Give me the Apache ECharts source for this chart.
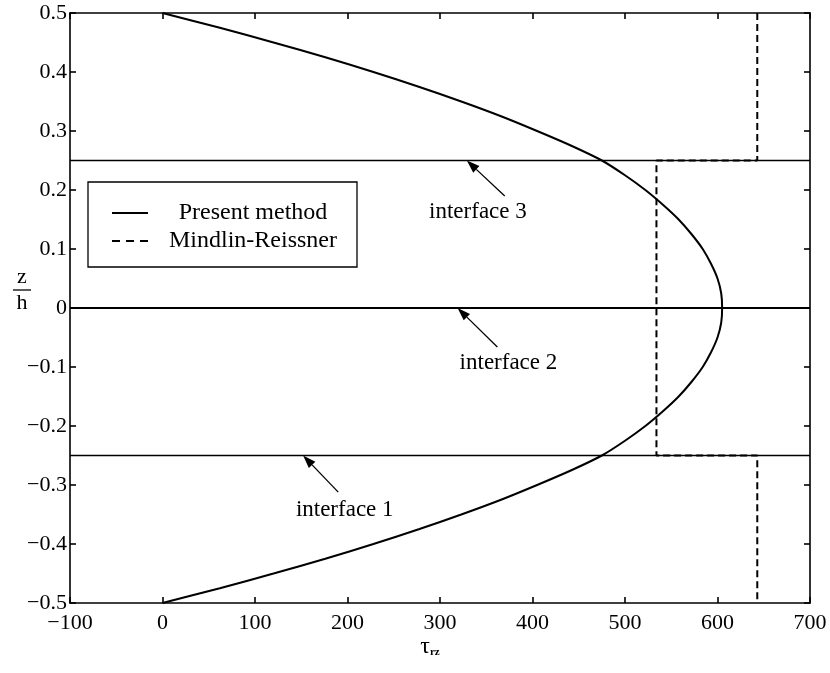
<!DOCTYPE html>
<html><head><meta charset="utf-8">
<script src="https://cdn.jsdelivr.net/npm/echarts@6/dist/echarts.min.js"></script>
<style>html,body{margin:0;padding:0;background:#fff}#c{width:830px;height:673px}</style>
</head><body><div id="c"></div>
<script>
// ---- data ----
const xTicks = [-100, 0, 100, 200, 300, 400, 500, 600, 700];
const xTickLabels = ['\u2212100', '0', '100', '200', '300', '400', '500', '600', '700'];
const yTicks = [-0.5, -0.4, -0.3, -0.2, -0.1, 0, 0.1, 0.2, 0.3, 0.4, 0.5];
const yTickLabels = ['\u22120.5', '\u22120.4', '\u22120.3', '\u22120.2', '\u22120.1', '0', '0.1', '0.2', '0.3', '0.4', '0.5'];

// Present method (solid curve): z/h and tau_rz
const presentZ = [0.5, 0.475, 0.45, 0.425, 0.4, 0.375, 0.35, 0.325, 0.3, 0.275, 0.25,
  0.225, 0.2, 0.175, 0.15, 0.125, 0.1, 0.075, 0.05, 0.025, 0,
  -0.025, -0.05, -0.075, -0.1, -0.125, -0.15, -0.175, -0.2, -0.225, -0.25,
  -0.275, -0.3, -0.325, -0.35, -0.375, -0.4, -0.425, -0.45, -0.475, -0.5];
const presentTau = [0, 62, 120, 176, 228, 277, 323, 366, 405, 442, 475,
  500, 522, 541, 558, 572, 584, 593, 600, 604, 605,
  604, 600, 593, 584, 572, 558, 541, 522, 500, 475,
  442, 405, 366, 323, 277, 228, 176, 120, 62, 0];

// Mindlin-Reissner (dashed, piecewise constant)
const mindlinZ = [0.5, 0.25, 0.25, -0.25, -0.25, -0.5];
const mindlinTau = [643, 643, 534, 534, 643, 643];

// interfaces
const interfaceZ = [-0.25, 0, 0.25];
const interfaceNames = ['interface 1', 'interface 2', 'interface 3'];
const arrowTip = [[152, -0.25], [319, 0], [329, 0.25]];
const arrowTail = [[190, -0.312], [362, -0.066], [370, 0.19]];
const labelAt = [[197, -0.342], [374, -0.093], [341, 0.163]];

const legendNames = ['Present method', 'Mindlin-Reissner'];

// ---- chart ----
const FONT = '"Liberation Serif", "Times New Roman", serif';
const chart = echarts.init(document.getElementById('c'), null, {renderer: 'canvas'});

function lookup(ticks, labels, v) {
  let best = 0;
  for (let i = 0; i < ticks.length; i++) if (Math.abs(ticks[i] - v) < Math.abs(ticks[best] - v)) best = i;
  return labels[best];
}

const axisLine = {show: true, onZero: false, lineStyle: {color: '#000', width: 1.6}};
const axisTick = {show: true, inside: true, length: 6, lineStyle: {color: '#000', width: 1.6}};

const xMin = xTicks[0], xMax = xTicks[xTicks.length - 1];
const yMin = yTicks[0], yMax = yTicks[yTicks.length - 1];

const series = [];
interfaceZ.forEach((z, i) => {
  series.push({
    type: 'line', name: interfaceNames[i], symbol: 'none', silent: true,
    data: [[xMin, z], [xMax, z]],
    lineStyle: {color: '#000', width: z === 0 ? 2.2 : 1.4},
    z: 2
  });
});
series.push({
  type: 'line', name: legendNames[0], symbol: 'none', smooth: 0.2,
  data: presentZ.map((z, i) => [presentTau[i], z]),
  lineStyle: {color: '#000', width: 2},
  z: 3
});
series.push({
  type: 'line', name: legendNames[1], symbol: 'none',
  data: mindlinZ.map((z, i) => [mindlinTau[i], z]),
  lineStyle: {color: '#000', width: 2, type: [7, 4]},
  z: 3
});

chart.setOption({
  animation: false,
  backgroundColor: '#fff',
  grid: {left: 70, right: 20, top: 13, bottom: 70, containLabel: false},
  xAxis: [
    {type: 'value', min: xMin, max: xMax, interval: 100, position: 'bottom',
     axisLine, axisTick, splitLine: {show: false},
     axisLabel: {color: '#000', fontFamily: FONT, fontSize: 22, margin: 9,
       formatter: v => lookup(xTicks, xTickLabels, v)}},
    {type: 'value', min: xMin, max: xMax, interval: 100, position: 'top',
     axisLine, axisTick, splitLine: {show: false}, axisLabel: {show: false}}
  ],
  yAxis: [
    {type: 'value', min: yMin, max: yMax, interval: 0.1, position: 'left',
     axisLine, axisTick, splitLine: {show: false},
     axisLabel: {color: '#000', fontFamily: FONT, fontSize: 22, margin: 3,
       formatter: v => lookup(yTicks, yTickLabels, v)}},
    {type: 'value', min: yMin, max: yMax, interval: 0.1, position: 'right',
     axisLine, axisTick, splitLine: {show: false}, axisLabel: {show: false}}
  ],
  series
});

// ---- annotations (positions from data coordinates) ----
function px(pt) { return chart.convertToPixel({xAxisIndex: 0, yAxisIndex: 0}, pt); }
const g = [];
interfaceZ.forEach((z, i) => {
  const tip = px(arrowTip[i]), tail = px(arrowTail[i]), lab = px(labelAt[i]);
  const dx = tip[0] - tail[0], dy = tip[1] - tail[1];
  const L = Math.hypot(dx, dy), ux = dx / L, uy = dy / L;
  const hl = 13, hw = 4.5;
  const bx = tip[0] - ux * hl, by = tip[1] - uy * hl;
  g.push({type: 'line', silent: true, z: 10,
    shape: {x1: tail[0], y1: tail[1], x2: bx, y2: by},
    style: {stroke: '#000', lineWidth: 1.3}});
  g.push({type: 'polygon', silent: true, z: 10,
    shape: {points: [[tip[0], tip[1]], [bx - uy * hw, by + ux * hw], [bx + uy * hw, by - ux * hw]]},
    style: {fill: '#000'}});
  g.push({type: 'text', silent: true, z: 10, x: lab[0], y: lab[1],
    style: {text: interfaceNames[i], fill: '#000', font: '23px ' + FONT, align: 'center', verticalAlign: 'middle'}});
});

// legend box
g.push({type: 'rect', z: 10, shape: {x: 88, y: 182, width: 269, height: 85},
  style: {fill: '#fff', stroke: '#000', lineWidth: 1.3}});
g.push({type: 'line', z: 11, shape: {x1: 112, y1: 213, x2: 148, y2: 213}, style: {stroke: '#000', lineWidth: 2}});
g.push({type: 'line', z: 11, shape: {x1: 112, y1: 241, x2: 148, y2: 241}, style: {stroke: '#000', lineWidth: 2, lineDash: [8, 6]}});
g.push({type: 'text', z: 11, x: 253, y: 213, style: {text: legendNames[0], fill: '#000', font: '24px ' + FONT, align: 'center', verticalAlign: 'middle'}});
g.push({type: 'text', z: 11, x: 253, y: 241, style: {text: legendNames[1], fill: '#000', font: '24px ' + FONT, align: 'center', verticalAlign: 'middle'}});

// axis names
g.push({type: 'text', z: 11, x: 22, y: 277, style: {text: 'z', fill: '#000', font: '22px ' + FONT, align: 'center', verticalAlign: 'middle'}});
g.push({type: 'line', z: 11, shape: {x1: 13, y1: 290, x2: 31, y2: 290}, style: {stroke: '#000', lineWidth: 1.3}});
g.push({type: 'text', z: 11, x: 22, y: 303, style: {text: 'h', fill: '#000', font: '22px ' + FONT, align: 'center', verticalAlign: 'middle'}});
g.push({type: 'text', z: 11, x: 430, y: 647, style: {
  text: '{t|\u03c4}{s|rz}', align: 'center', verticalAlign: 'middle',
  rich: {t: {font: '24px ' + FONT, fill: '#000'}, s: {font: 'bold 11px ' + FONT, fill: '#000', padding: [10, 0, 0, 0]}}}});

chart.setOption({graphic: g});
</script>
</body></html>
